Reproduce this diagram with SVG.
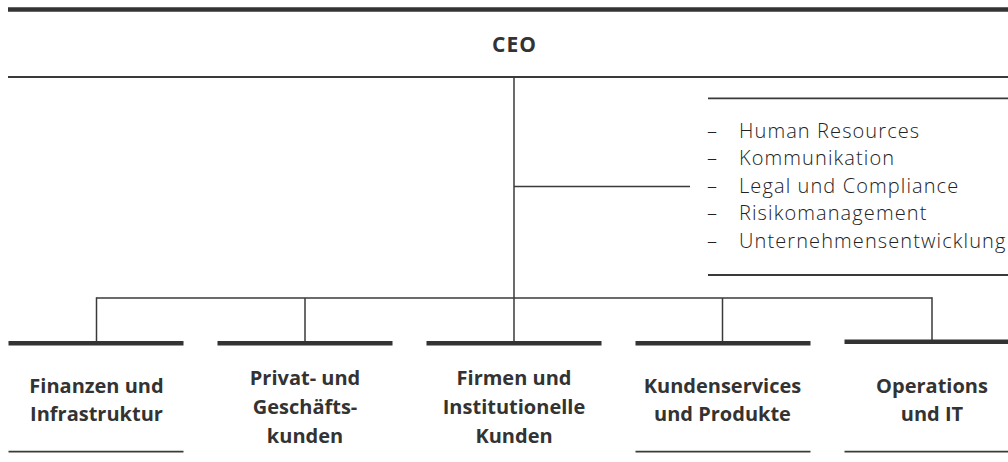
<svg xmlns="http://www.w3.org/2000/svg" width="1008" height="462" viewBox="0 0 1008 462">
<style>
.bg{fill:#ffffff}
.thick{stroke:#333333;stroke-width:4.5;fill:none}
.thin{stroke:#3a3a3a;stroke-width:1.8;fill:none}
.conn{stroke:#3a3a3a;stroke-width:1.5;fill:none}
.lbl{font-family:"Open Sans","Liberation Sans",sans-serif;font-weight:700;font-size:20px;fill:#333333;text-anchor:middle}
.lst{font-family:"Open Sans","Liberation Sans",sans-serif;font-weight:300;font-size:20px;fill:#222222;letter-spacing:1.1px}
</style>
<rect class="bg" x="0" y="0" width="1008" height="462"/>
<g id="connectors">
<line class="conn" x1="514" y1="77" x2="514" y2="298"/>
<line class="conn" x1="514" y1="186.5" x2="690" y2="186.5"/>
<line class="conn" x1="96.5" y1="298" x2="932" y2="298"/>
<line class="conn" x1="96.5" y1="297.3" x2="96.5" y2="342"/>
<line class="conn" x1="305" y1="298" x2="305" y2="342"/>
<line class="conn" x1="514" y1="298" x2="514" y2="342"/>
<line class="conn" x1="722.5" y1="298" x2="722.5" y2="342"/>
<line class="conn" x1="932" y1="297.3" x2="932" y2="340"/>
</g>
<g id="ceo">
<line class="thick" x1="8" y1="9.5" x2="1008" y2="9.5"/>
<text class="lbl" x="514.5" y="52" style="letter-spacing:1px;font-size:21px">CEO</text>
<line class="thin" x1="8" y1="77" x2="1008" y2="77"/>
</g>
<g id="stab">
<line class="thin" x1="708" y1="98.3" x2="1008" y2="98.3"/>
<text class="lst" x="707" y="137.5">–</text><text class="lst" x="739" y="137.5">Human Resources</text>
<text class="lst" x="707" y="165">–</text><text class="lst" x="739" y="165">Kommunikation</text>
<text class="lst" x="707" y="192.5">–</text><text class="lst" x="739" y="192.5">Legal und Compliance</text>
<text class="lst" x="707" y="220">–</text><text class="lst" x="739" y="220">Risikomanagement</text>
<text class="lst" x="707" y="247.5">–</text><text class="lst" x="739" y="247.5">Unternehmensentwicklung</text>
<line class="thin" x1="708" y1="275" x2="1008" y2="275"/>
</g>
<g id="finanzen">
<line class="thick" x1="8.5" y1="343.3" x2="183.5" y2="343.3"/>
<text class="lbl" x="96.5" y="392.7">Finanzen und</text>
<text class="lbl" x="96.5" y="420.7">Infrastruktur</text>
<line class="thin" x1="8.5" y1="451.7" x2="183.5" y2="451.7"/>
</g>
<g id="privat">
<line class="thick" x1="217.5" y1="343.3" x2="392.5" y2="343.3"/>
<text class="lbl" x="305" y="385">Privat- und</text>
<text class="lbl" x="305" y="414">Geschäfts-</text>
<text class="lbl" x="305" y="443">kunden</text>
</g>
<g id="firmen">
<line class="thick" x1="426.5" y1="343.3" x2="601.5" y2="343.3"/>
<text class="lbl" x="514" y="385">Firmen und</text>
<text class="lbl" x="514" y="414">Institutionelle</text>
<text class="lbl" x="514" y="443">Kunden</text>
</g>
<g id="kundenservices">
<line class="thick" x1="635.5" y1="343.3" x2="810.5" y2="343.3"/>
<text class="lbl" x="722.5" y="392.7">Kundenservices</text>
<text class="lbl" x="722.5" y="420.7">und Produkte</text>
<line class="thin" x1="635.5" y1="451.7" x2="810.5" y2="451.7"/>
</g>
<g id="operations">
<line class="thick" x1="844.5" y1="341.7" x2="1008" y2="341.7"/>
<text class="lbl" x="932" y="392.7">Operations</text>
<text class="lbl" x="932" y="420.7">und IT</text>
<line class="thin" x1="844.5" y1="451.7" x2="1008" y2="451.7"/>
</g>
</svg>
